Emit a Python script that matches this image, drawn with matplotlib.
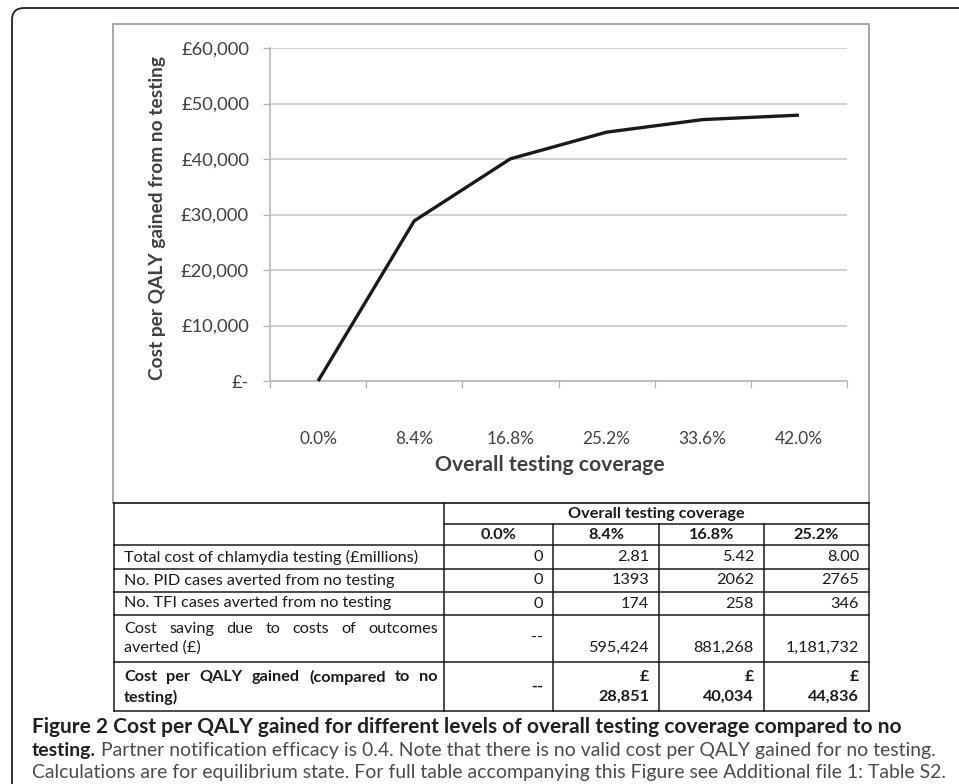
import matplotlib
matplotlib.use("Agg")
import matplotlib.pyplot as plt
import numpy as np
from matplotlib.patches import FancyBboxPatch, Rectangle

# ---------------- data ----------------
coverage_labels = ["0.0%", "8.4%", "16.8%", "25.2%", "33.6%", "42.0%"]
cost_per_qaly = [0, 28851, 40034, 44836, 47100, 47900]
y_ticks = [0, 10000, 20000, 30000, 40000, 50000, 60000]
y_tick_labels = ["£-", "£10,000", "£20,000", "£30,000", "£40,000", "£50,000", "£60,000"]
y_label = "Cost per QALY gained from no testing"
x_label = "Overall testing coverage"

table_header = "Overall testing coverage"
table_cols = ["0.0%", "8.4%", "16.8%", "25.2%"]
row_total_cost = ["0", "2.81", "5.42", "8.00"]
row_pid = ["0", "1393", "2062", "2765"]
row_tfi = ["0", "174", "258", "346"]
row_saving = ["--", "595,424", "881,268", "1,181,732"]
row_qaly = ["--", "28,851", "40,034", "44,836"]
row_labels = ["Total cost of chlamydia testing (£millions)",
              "No. PID cases averted from no testing",
              "No. TFI cases averted from no testing",
              ["Cost saving due to costs of outcomes", "averted (£)"],
              ["Cost per QALY gained (compared to no", "testing)"]]

caption_1 = "Figure 2 Cost per QALY gained for different levels of overall testing coverage compared to no"
caption_2_bold = "testing."
caption_2 = "Partner notification efficacy is 0.4. Note that there is no valid cost per QALY gained for no testing."
caption_3 = "Calculations are for equilibrium state. For full table accompanying this Figure see Additional file 1: Table S2."

# ---------------- figure ----------------
W, H = 959, 784
fig = plt.figure(figsize=(W / 100, H / 100), dpi=100)
renderer = fig.canvas.get_renderer()
FAM = "Lato"
TXT = "#404040"
BLK = "#1a1a1a"


def text_width(s, size, weight="normal", family=FAM):
    t = fig.text(0, 0, s, fontsize=size, family=family, weight=weight)
    w = t.get_window_extent(renderer).width
    t.remove()
    return w


def fit(s, target, weight="normal", family=FAM):
    return 10 * target / text_width(s, 10, weight, family)


# overlay axes in pixel coordinates
ov = fig.add_axes([0, 0, 1, 1], zorder=0)
ov.set_xlim(0, W)
ov.set_ylim(H, 0)
ov.axis("off")

TOP = 503  # chart frame bottom / table top

# outer rounded frame
ov.add_patch(FancyBboxPatch((12, 8), 1100, 900, boxstyle="round,pad=0,rounding_size=12",
                            fc="white", ec="#222222", lw=1.3))
# chart frame
ov.add_patch(Rectangle((113, 24), 869 - 113, TOP - 24, fc="white", ec="#a6a6a6", lw=1.4))

# ---------------- chart ----------------
ax = fig.add_axes([270 / W, 1 - 381 / H, 577 / W, 333 / H], zorder=1)
ax.patch.set_alpha(0)
xs = np.arange(len(coverage_labels)) + 0.5
ax.plot(xs, cost_per_qaly, color=BLK, lw=2.4, solid_joinstyle="round",
        solid_capstyle="butt", clip_on=False, zorder=3)
ax.set_xlim(0, len(coverage_labels))
ax.set_ylim(0, 60000)

ax.set_yticks(y_ticks)
tick_fs = fit("£60,000", 68)
ax.set_yticklabels(y_tick_labels, fontsize=tick_fs, family=FAM, color=TXT)
ax.yaxis.grid(True, color="#c8c8c8", lw=1.2)
ax.set_axisbelow(True)
ax.tick_params(axis="y", length=5, width=0.9, color="#b0b0b0", pad=10)

ax.set_xticks(np.arange(0, len(coverage_labels) + 1))
ax.set_xticklabels([])
ax.set_xticks(xs, minor=True)
ax.set_xticklabels(coverage_labels, minor=True, fontsize=fit("16.8%", 48), family=FAM, color=TXT)
ax.tick_params(axis="x", which="major", length=5, width=0.9, color="#b0b0b0")
ax.tick_params(axis="x", which="minor", length=0, pad=36)

for s in ["top", "right"]:
    ax.spines[s].set_visible(False)
for s in ["left", "bottom"]:
    ax.spines[s].set_color("#b8b8b8")
    ax.spines[s].set_linewidth(1.2)

ov.text(550, 465, x_label, ha="center", va="center", family=FAM, weight="bold",
        fontsize=fit(x_label, 230, "bold"), color=TXT)
ov.text(157, 218, y_label, ha="center", va="center", rotation=90, family=FAM, weight="bold",
        fontsize=fit(y_label, 325, "bold"), color=TXT)

# ---------------- table ----------------
L, C0, R = 114, 444, 869
col_edges = [C0, 553, 659, 764, R]
h1, h2 = 524, 545
row_bottoms = [569, 592, 615, 662, 711]
lw_t = 1.1
ov.plot([L, R], [TOP, TOP], color=BLK, lw=lw_t)
ov.plot([C0, R], [h1, h1], color=BLK, lw=lw_t)
ov.plot([L, R], [h2, h2], color=BLK, lw=lw_t)
for yb in row_bottoms:
    ov.plot([L, R], [yb, yb], color=BLK, lw=lw_t)
ov.plot([L, L], [TOP, row_bottoms[-1]], color=BLK, lw=lw_t)
ov.plot([R, R], [TOP, row_bottoms[-1]], color=BLK, lw=lw_t)
ov.plot([C0, C0], [TOP, row_bottoms[-1]], color=BLK, lw=lw_t)
for xe in col_edges[1:-1]:
    ov.plot([xe, xe], [h1, row_bottoms[-1]], color=BLK, lw=lw_t)

tfs = fit(row_labels[0], 294)
ov.text((C0 + R) / 2, 514, table_header, ha="center", va="center", family=FAM,
        weight="bold", fontsize=tfs, color=BLK)
for i, c in enumerate(table_cols):
    ov.text((col_edges[i] + col_edges[i + 1]) / 2, 535, c, ha="center", va="center",
            family=FAM, weight="bold", fontsize=tfs, color=BLK)

LX = 124
PAD = 10
single_rows = [(row_total_cost, 557), (row_pid, 580.5), (row_tfi, 603.5)]
for k, (vals, yc) in enumerate(single_rows):
    ov.text(LX, yc, row_labels[k], ha="left", va="center", family=FAM, fontsize=tfs, color=BLK)
    for i, v in enumerate(vals):
        ov.text(col_edges[i + 1] - PAD, yc, v, ha="right", va="center", family=FAM,
                fontsize=tfs, color=BLK)


def justify(line, x0, x1, y, weight="normal"):
    words = line.split(" ")
    widths = [text_width(w, tfs, weight) for w in words]
    gap = (x1 - x0 - sum(widths)) / (len(words) - 1)
    x = x0
    for w, wd in zip(words, widths):
        ov.text(x, y, w, ha="left", va="center", family=FAM, weight=weight,
                fontsize=tfs, color=BLK)
        x += wd + gap


# cost saving row
justify(row_labels[3][0], LX, 438, 629)
ov.text(LX, 648, row_labels[3][1], ha="left", va="center", family=FAM, fontsize=tfs, color=BLK)
ov.text(col_edges[1] - PAD, 638, row_saving[0], ha="right", va="center", family=FAM,
        fontsize=tfs, color=BLK)
for i, v in enumerate(row_saving[1:], start=1):
    ov.text(col_edges[i + 1] - PAD, 648, v, ha="right", va="center", family=FAM,
            fontsize=tfs, color=BLK)

# cost per QALY row
justify(row_labels[4][0], LX, 438, 677, "bold")
ov.text(LX, 697, row_labels[4][1], ha="left", va="center", family=FAM, weight="bold",
        fontsize=tfs, color=BLK)
ov.text(col_edges[1] - PAD, 687, row_qaly[0], ha="right", va="center", family=FAM,
        weight="bold", fontsize=tfs, color=BLK)
for i, v in enumerate(row_qaly[1:], start=1):
    ov.text(col_edges[i + 1] - PAD, 677, "£", ha="right", va="center", family=FAM,
            weight="bold", fontsize=tfs, color=BLK)
    ov.text(col_edges[i + 1] - PAD, 697, v, ha="right", va="center", family=FAM,
            weight="bold", fontsize=tfs, color=BLK)

# ---------------- caption ----------------
CX = 32
cfs1 = fit(caption_1, 870, "bold")
ov.text(CX, 733, caption_1, ha="left", va="baseline", family=FAM, weight="bold",
        fontsize=cfs1, color="#231f20")
cfs = fit(caption_3, 912)
bw = text_width(caption_2_bold + " ", cfs, "bold")
ov.text(CX, 756, caption_2_bold, ha="left", va="baseline", family=FAM, weight="bold",
        fontsize=cfs, color="#231f20")
ov.text(CX + bw, 756, caption_2, ha="left", va="baseline", family=FAM,
        fontsize=cfs, color="#4a4a4a")
ov.text(CX, 778, caption_3, ha="left", va="baseline", family=FAM,
        fontsize=cfs, color="#4a4a4a")

fig.savefig("out.png", dpi=100)
